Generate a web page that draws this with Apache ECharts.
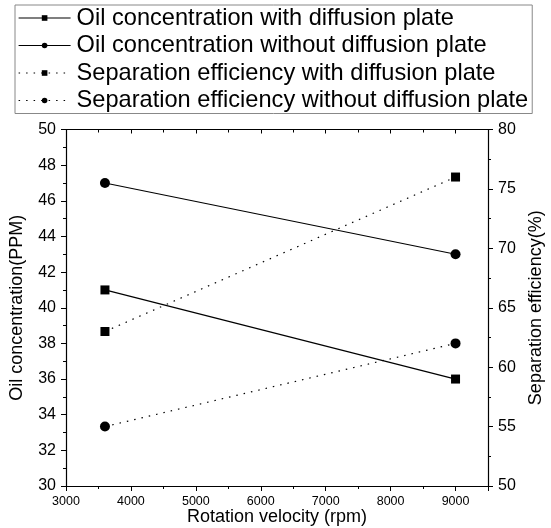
<!DOCTYPE html>
<html><head><meta charset="utf-8">
<script src="https://cdn.jsdelivr.net/npm/echarts@6/dist/echarts.min.js"></script>
<style>html,body{margin:0;padding:0;background:#fff}#c{width:551px;height:528px}</style>
</head><body><div id="c"></div>
<script>
const velocities = [3600, 9000];
const oilWith = [41, 36];
const oilWithout = [47, 43];
const effWith = [63, 76];
const effWithout = [55, 62];
const names = ['Oil concentration with diffusion plate','Oil concentration without diffusion plate','Separation efficiency with diffusion plate','Separation efficiency without diffusion plate'];

const F = 'Liberation Sans, Arial, sans-serif';
const chart = echarts.init(document.getElementById('c'));
function pairs(v){ return velocities.map((x,i)=>[x,v[i]]); }
function ser(name, data, symbol, dotted, yIdx){
  return {name, type:'line', data:pairs(data), yAxisIndex:yIdx, symbol, symbolSize: symbol==='rect'?9:10,
    itemStyle:{color:'#000'}, lineStyle:{color:'#000', width:1.2, type: dotted?[1.5,6]:'solid'}, animation:false};
}
const axisLine = {show:true, lineStyle:{color:'#000', width:1.2}};
chart.setOption({
  animation:false,
  legend:{orient:'vertical', left:15, top:5, padding:[1,4,1,3], itemGap:3.5, itemWidth:52, itemHeight:7,
    lineStyle:{width:1.2},
    borderColor:'#888', borderWidth:1, textStyle:{fontFamily:F, fontSize:23.6, color:'#000', padding:[0,0,0,1]}, data:names},
  grid:{left:66, right:63, top:129.5, bottom:42, outerBoundsMode:'none'},
  xAxis:[{type:'value', min:3000, max:9500, interval:1000, position:'bottom',
    axisLine, axisTick:{show:true, inside:false, length:5, lineStyle:{color:'#000'}},
    minorTick:{show:true, splitNumber:2, length:3, lineStyle:{color:'#000'}},
    splitLine:{show:false},
    axisLabel:{fontFamily:F, fontSize:12.5, color:'#000', margin:9, formatter:v => v===9500 ? '' : String(v)},
    name:'Rotation velocity (rpm)', nameLocation:'middle', nameGap:22, nameMoveOverlap:false, nameTextStyle:{fontFamily:F, fontSize:18, color:'#000'}},
   {type:'value', min:3000, max:9500, interval:1000, position:'top',
    axisLine, axisTick:{show:true, inside:true, length:4, lineStyle:{color:'#000'}},
    minorTick:{show:true, splitNumber:2, length:3, lineStyle:{color:'#000'}},
    splitLine:{show:false}, axisLabel:{show:false}}],
  yAxis:[{type:'value', min:30, max:50, interval:2, position:'left',
    axisLine, axisTick:{show:true, length:5, lineStyle:{color:'#000'}},
    minorTick:{show:true, splitNumber:2, length:3, lineStyle:{color:'#000'}},
    splitLine:{show:false}, axisLabel:{fontFamily:F, fontSize:16, color:'#000', margin:10},
    name:'Oil concentration(PPM)', nameLocation:'middle', nameGap:40, nameMoveOverlap:false, nameRotate:90, nameTextStyle:{fontFamily:F, fontSize:18, color:'#000'}},
   {type:'value', min:50, max:80, interval:5, position:'right',
    axisLine, axisTick:{show:true, length:5, lineStyle:{color:'#000'}},
    minorTick:{show:true, splitNumber:2, length:3, lineStyle:{color:'#000'}},
    splitLine:{show:false}, axisLabel:{fontFamily:F, fontSize:16, color:'#000', margin:10},
    name:'Separation efficiency(%)', nameLocation:'middle', nameGap:39, nameMoveOverlap:false, nameRotate:90, nameTextStyle:{fontFamily:F, fontSize:18, color:'#000'}}],
  series:[
    ser(names[0], oilWith, 'rect', false, 0),
    ser(names[1], oilWithout, 'circle', false, 0),
    ser(names[2], effWith, 'rect', true, 1),
    ser(names[3], effWithout, 'circle', true, 1)
  ]
});
</script></body></html>
